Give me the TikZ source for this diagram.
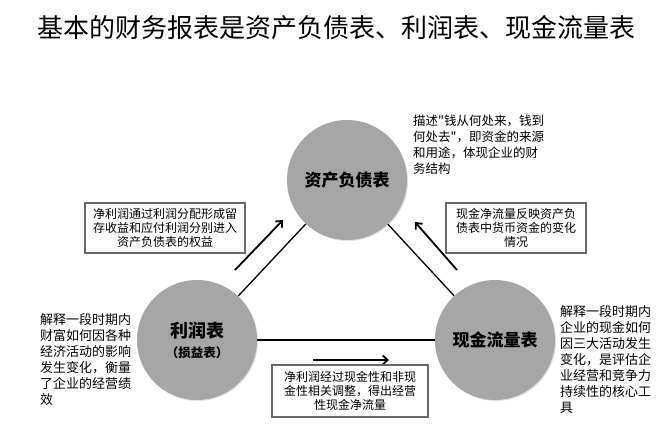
\documentclass[tikz,border=0pt]{standalone}
\usepackage{fontspec}
\setmainfont{Noto Sans CJK SC}
\newfontfamily\cjkplain{Noto Sans CJK SC}
\usetikzlibrary{arrows.meta,shadows}
\definecolor{circgray}{RGB}{166,166,166}
\definecolor{boxgray}{RGB}{105,105,105}
\tikzset{
  statement/.style={circle, minimum size=120pt, inner sep=0pt, fill=circgray,
    drop shadow={opacity=0.25, shadow xshift=1pt, shadow yshift=-1pt},
    font=\fontsize{17}{20}\selectfont\bfseries},
  conn/.style={line width=1.3pt, black},
  flow/.style={line width=1.8pt, black, -{Straight Barb[length=5pt,width=9pt,line width=1.8pt]}},
  notebox/.style={draw=boxgray, line width=1.6pt, fill=white, inner sep=0pt, align=center,
    font=\fontsize{12}{14}\selectfont},
  desc/.style={inner sep=0pt, align=left, anchor=north west, font=\fontsize{13}{16}\selectfont}
}
\begin{document}
\begin{tikzpicture}[x=1pt,y=-1pt]
\useasboundingbox (0,0) rectangle (672,438);

\node (title) at (336,28) {\fontsize{26}{30}\selectfont 基本的财务报表是资产负债表、利润表、现金流量表};

\node[statement] (T) at (347,180) {资产负债表};
\node[statement, align=center] (L) at (197,340) {\fontsize{18}{19}\selectfont\bfseries 利润表\\[0pt]\fontsize{12.5}{14}\selectfont\bfseries （损益表）};
\node[statement] (R) at (495,340) {现金流量表};

\draw[conn] (L) -- (T);
\draw[conn] (R) -- (T);
\draw[conn] (L) -- (R);

\coordinate (a1s) at (235,270);
\coordinate (a1e) at (283,220);
\coordinate (a2s) at (457,270);
\coordinate (a2e) at (415,222);
\coordinate (a3s) at (313,360);
\coordinate (a3e) at (389,360);
\draw[flow] (a1s) -- (a1e);
\draw[flow] (a2s) -- (a2e);
\draw[flow] (a3s) -- (a3e);

\node[notebox, minimum width=160pt, minimum height=50pt] (b1) at (165,228)
  {净利润通过利润分配形成留\\存收益和应付利润分别进入\\资产负债表的权益};
\node[notebox, minimum width=140pt, minimum height=50pt] (b2) at (516,228)
  {现金净流量反映资产负\\债表中货币资金的变化\\情况};
\node[notebox, minimum width=156pt, minimum height=52pt] (b3) at (350,391)
  {净利润经过现金性和非现\\金性相关调整，得出经营\\性现金净流量};

\node[desc, font=\cjkplain\fontsize{12.5}{16}\selectfont] (tT) at (413,115)
  {描述"钱从何处来，钱到\\何处去"，即资金的来源\\和用途，体现企业的财\\务结构};
\node[desc] (tL) at (40,313)
  {解释一段时期内\\财富如何因各种\\经济活动的影响\\发生变化，衡量\\了企业的经营绩\\效};
\node[desc] (tR) at (560,305)
  {解释一段时期内\\企业的现金如何\\因三大活动发生\\变化，是评估企\\业经营和竞争力\\持续性的核心工\\具};
\end{tikzpicture}
\end{document}
